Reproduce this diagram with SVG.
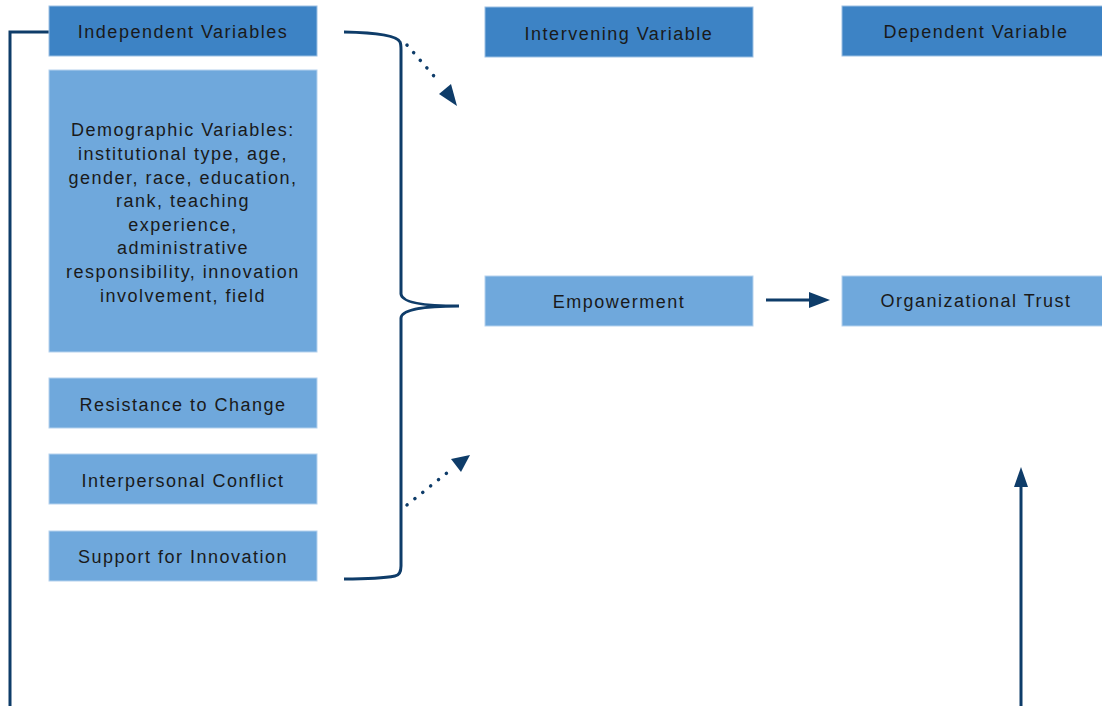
<svg xmlns="http://www.w3.org/2000/svg" width="1102" height="706" viewBox="0 0 1102 706">
<style>
.dark{fill:#3d83c5;stroke:#9cc0e3;stroke-width:1}
.light{fill:#6fa8dc;stroke:#b5d2ee;stroke-width:1}
text{font-family:"Liberation Sans",Arial,sans-serif;font-size:18px;fill:#1a1a1a;text-anchor:middle;letter-spacing:1.5px}
.conn{fill:none;stroke:#0e3c69;stroke-width:3}
.dot{fill:none;stroke:#0e3c69;stroke-width:3.5;stroke-dasharray:0.1 10;stroke-linecap:round}
</style>
<rect width="1102" height="706" fill="#ffffff"/>
<g id="connectors">
<path class="conn" d="M49,32 L10,32 L10,706"/>
<path class="conn" d="M344,32 Q396,33 400,42 Q401,44 401,50 L401,294 Q402,306 459,306 Q402,306 401,318 L401,566 Q401,575 395,576 Q380,579 344,579"/>
<path class="dot" d="M407,45 L440,83"/>
<path fill="#0e3c69" d="M457,106 L439,94 L451,84 z"/>
<path class="dot" d="M407,505 L448,472"/>
<path fill="#0e3c69" d="M470,455 L461,472 L451,459 z"/>
<path class="conn" d="M766,300 L812,300"/>
<path fill="#0e3c69" d="M830,300 L809,292 L809,308 z"/>
<path class="conn" d="M1021,706 L1021,484"/>
<path fill="#0e3c69" d="M1021,467 L1014,487 L1028,487 z"/>
</g>
<g id="independent-variables">
<rect class="dark" x="49" y="6" width="268" height="50"/>
<text x="183" y="38">Independent Variables</text>
</g>
<g id="demographic-variables">
<rect class="light" x="49" y="70" width="268" height="282"/>
<text x="183" y="136">Demographic Variables:</text>
<text x="183" y="160">institutional type, age,</text>
<text x="183" y="184">gender, race, education,</text>
<text x="183" y="207">rank, teaching</text>
<text x="183" y="231">experience,</text>
<text x="183" y="254">administrative</text>
<text x="183" y="278">responsibility, innovation</text>
<text x="183" y="302">involvement, field</text>
</g>
<g id="resistance-to-change">
<rect class="light" x="49" y="378" width="268" height="50"/>
<text x="183" y="411">Resistance to Change</text>
</g>
<g id="interpersonal-conflict">
<rect class="light" x="49" y="454" width="268" height="50"/>
<text x="183" y="487">Interpersonal Conflict</text>
</g>
<g id="support-for-innovation">
<rect class="light" x="49" y="531" width="268" height="50"/>
<text x="183" y="563">Support for Innovation</text>
</g>
<g id="intervening-variable">
<rect class="dark" x="485" y="7" width="268" height="50"/>
<text x="619" y="40">Intervening Variable</text>
</g>
<g id="dependent-variable">
<rect class="dark" x="842" y="6" width="262" height="50"/>
<text x="976" y="38">Dependent Variable</text>
</g>
<g id="empowerment">
<rect class="light" x="485" y="276" width="268" height="50"/>
<text x="619" y="308">Empowerment</text>
</g>
<g id="organizational-trust">
<rect class="light" x="842" y="276" width="262" height="50"/>
<text x="976" y="307">Organizational Trust</text>
</g>
</svg>
